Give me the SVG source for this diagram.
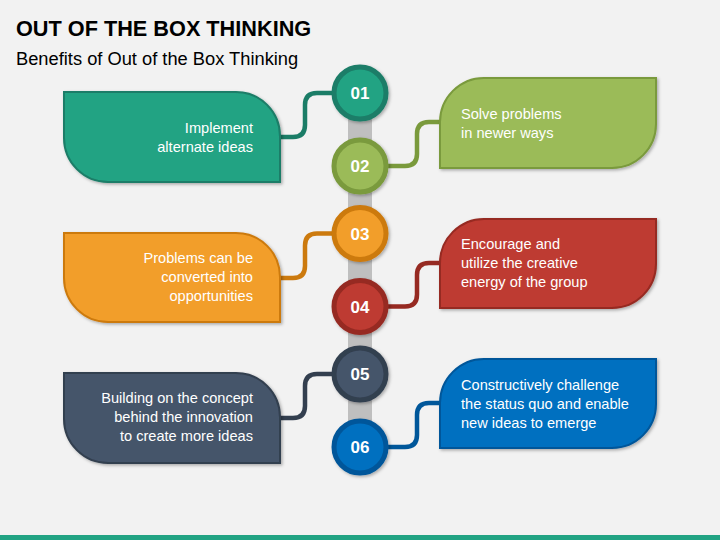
<svg xmlns="http://www.w3.org/2000/svg" width="720" height="540" viewBox="0 0 720 540">
<defs>
<filter id="sh" x="-10%" y="-10%" width="125%" height="130%">
<feDropShadow dx="1.5" dy="1.5" stdDeviation="1.5" flood-color="#000" flood-opacity="0.3"/>
</filter>
<style>
.title{font-family:"Liberation Sans",Arial,sans-serif;font-weight:bold;font-size:21.7px;fill:#000}
.sub{font-family:"Liberation Sans",Arial,sans-serif;font-size:18.3px;fill:#000}
.t{font-family:"Liberation Sans",Arial,sans-serif;font-size:14.6px;fill:#fff}
.r{text-anchor:end}
.num{font-family:"Liberation Sans",Arial,sans-serif;font-weight:bold;font-size:17px;fill:#fff;text-anchor:middle}
.box{stroke-width:2;filter:url(#sh)}
.ring{stroke-width:5;filter:url(#sh)}
.conn{fill:none;stroke-width:4.5}
</style>
</defs>
<rect width="720" height="540" fill="#f2f2f2"/>
<rect x="0" y="535" width="720" height="5" fill="#21a383"/>
<text class="title" x="16" y="36">OUT OF THE BOX THINKING</text>
<text class="sub" x="16" y="65">Benefits of Out of the Box Thinking</text>
<rect x="348" y="93" width="24" height="354" fill="#bfbfbf"/>
<g id="connectors">
<path class="conn" stroke="#1b7d67" d="M280,137 H293 Q305,137 305,125 V105 Q305,93 317,93 H332"/>
<path class="conn" stroke="#7a9a3c" d="M388,166 H405 Q417,166 417,154 V134 Q417,122 429,122 H440"/>
<path class="conn" stroke="#cc7a0e" d="M280,278 H293 Q305,278 305,266 V245.5 Q305,233.5 317,233.5 H332"/>
<path class="conn" stroke="#962a22" d="M388,306.5 H405 Q417,306.5 417,294.5 V275 Q417,263 429,263 H440"/>
<path class="conn" stroke="#333f4f" d="M280,418 H293 Q305,418 305,406 V386 Q305,374 317,374 H332"/>
<path class="conn" stroke="#00579a" d="M388,447 H405 Q417,447 417,435 V415 Q417,403 429,403 H440"/>
</g>
<g id="node1">
<path class="box" fill="#21a383" stroke="#1b7d67" d="M64,92 H236 A44,44 0 0 1 280,136 V182 H108 A44,44 0 0 1 64,138 Z"/>
<text class="t r" x="253" y="133">Implement</text>
<text class="t r" x="253" y="152">alternate ideas</text>
</g>
<g id="node2">
<path class="box" fill="#9bbb59" stroke="#7a9a3c" d="M440,122 A44,44 0 0 1 484,78 H656 V124 A44,44 0 0 1 612,168 H440 Z"/>
<text class="t" x="461" y="119">Solve problems</text>
<text class="t" x="461" y="138">in newer ways</text>
</g>
<g id="node3">
<path class="box" fill="#f29e2a" stroke="#cc7a0e" d="M64,233 H236 A44,44 0 0 1 280,277 V322 H108 A44,44 0 0 1 64,278 Z"/>
<text class="t r" x="253" y="263">Problems can be</text>
<text class="t r" x="253" y="282">converted into</text>
<text class="t r" x="253" y="301">opportunities</text>
</g>
<g id="node4">
<path class="box" fill="#be3a31" stroke="#962a22" d="M440,263 A44,44 0 0 1 484,219 H656 V264 A44,44 0 0 1 612,308 H440 Z"/>
<text class="t" x="461" y="249">Encourage and</text>
<text class="t" x="461" y="268">utilize the creative</text>
<text class="t" x="461" y="287">energy of the group</text>
</g>
<g id="node5">
<path class="box" fill="#44546a" stroke="#333f4f" d="M64,373 H236 A44,44 0 0 1 280,417 V463 H108 A44,44 0 0 1 64,419 Z"/>
<text class="t r" x="253" y="403">Building on the concept</text>
<text class="t r" x="253" y="422">behind the innovation</text>
<text class="t r" x="253" y="441">to create more ideas</text>
</g>
<g id="node6">
<path class="box" fill="#0070c0" stroke="#00579a" d="M440,403 A44,44 0 0 1 484,359 H656 V404 A44,44 0 0 1 612,448 H440 Z"/>
<text class="t" x="461" y="390">Constructively challenge</text>
<text class="t" x="461" y="409">the status quo and enable</text>
<text class="t" x="461" y="428">new ideas to emerge</text>
</g>
<g id="circle01">
<circle class="ring" cx="360" cy="93" r="26" fill="#21a383" stroke="#1b7d67"/>
<text class="num" x="360" y="99">01</text>
</g>
<g id="circle02">
<circle class="ring" cx="360" cy="166" r="26" fill="#9bbb59" stroke="#7a9a3c"/>
<text class="num" x="360" y="172">02</text>
</g>
<g id="circle03">
<circle class="ring" cx="360" cy="233.5" r="26" fill="#f29e2a" stroke="#cc7a0e"/>
<text class="num" x="360" y="239.5">03</text>
</g>
<g id="circle04">
<circle class="ring" cx="360" cy="306.5" r="26" fill="#be3a31" stroke="#962a22"/>
<text class="num" x="360" y="312.5">04</text>
</g>
<g id="circle05">
<circle class="ring" cx="360" cy="374" r="26" fill="#44546a" stroke="#333f4f"/>
<text class="num" x="360" y="380">05</text>
</g>
<g id="circle06">
<circle class="ring" cx="360" cy="447" r="26" fill="#0070c0" stroke="#00579a"/>
<text class="num" x="360" y="453">06</text>
</g>
</svg>
